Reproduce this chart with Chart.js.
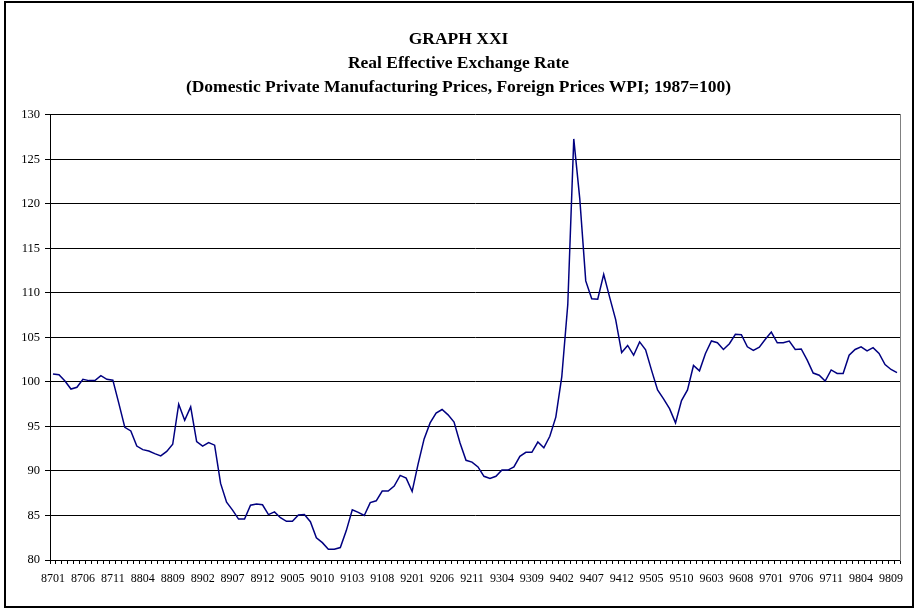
<!DOCTYPE html>
<html>
<head>
<meta charset="utf-8">
<script src="https://cdn.jsdelivr.net/npm/chart.js@4.4.1/dist/chart.umd.min.js"></script>
<style>
  body { margin: 0; background: #fff; }
  #wrap { position: relative; width: 917px; height: 610px; }
  #frame { position: absolute; left: 4px; top: 1px; width: 910px; height: 607px; border: 2px solid #000; box-sizing: border-box; pointer-events: none; }
  #myChart { position: absolute; left: 0; top: 0; }
</style>
</head>
<body>
<div id="wrap">
  <canvas id="myChart" width="917" height="610"></canvas>
  <div id="frame"></div>
</div>
<script>
// Real effective exchange rate, monthly from 8701 (1987=100)
const rate = [
  100.9, 100.8, 100.1, 99.2, 99.4, 100.3, 100.15, 100.15, 100.7, 100.3, 100.2, 97.6,
  94.9, 94.5, 92.8, 92.4, 92.25, 91.95, 91.7, 92.2, 93.0, 97.5, 95.7, 97.2,
  93.3, 92.8, 93.2, 92.9, 88.6, 86.5, 85.6, 84.6, 84.6, 86.15, 86.3, 86.2,
  85.1, 85.4, 84.75, 84.35, 84.35, 85.05, 85.1, 84.3, 82.5, 81.95, 81.2, 81.2,
  81.4, 83.3, 85.65, 85.35, 85.0, 86.45, 86.65, 87.75, 87.75, 88.3, 89.5, 89.2,
  87.7, 90.8, 93.6, 95.4, 96.5, 96.9, 96.3, 95.5, 93.15, 91.2, 91.0, 90.45,
  89.4, 89.15, 89.4, 90.1, 90.1, 90.45, 91.65, 92.1, 92.1, 93.25, 92.6, 93.9,
  96.05, 100.6, 108.7, 127.3, 120.6, 111.35, 109.35, 109.3, 112.1, 109.5, 107.0, 103.3,
  104.1, 103.0, 104.5, 103.6, 101.3, 99.1, 98.1, 97.0, 95.4, 97.9, 99.1, 101.85,
  101.25, 103.2, 104.6, 104.4, 103.65, 104.3, 105.35, 105.3, 103.95, 103.55, 103.9, 104.8,
  105.6, 104.4, 104.4, 104.6, 103.65, 103.7, 102.45, 101.0, 100.75, 100.1, 101.35, 100.95,
  100.95, 103.0, 103.65, 103.95, 103.5, 103.85, 103.2, 101.95, 101.4, 101.05
];

const titleLines = [
  "GRAPH XXI",
  "Real Effective Exchange Rate",
  "(Domestic Private Manufacturing Prices, Foreign Prices WPI; 1987=100)"
];

const yMin = 80;
const yMax = 130;
const yStep = 5;
const labelEvery = 5;

// period labels yymm, starting 8701
const periods = [];
for (let k = 0; k < rate.length; k++) {
  const yy = 87 + Math.floor(k / 12);
  const mm = (k % 12) + 1;
  periods.push(String(yy) + String(mm).padStart(2, "0"));
}

const serif = "'Liberation Serif', 'Times New Roman', serif";

const ctx = document.getElementById("myChart").getContext("2d");
new Chart(ctx, {
  type: "line",
  data: {
    labels: periods,
    datasets: [
      {
        label: "REER",
        data: rate,
        borderColor: "#000080",
        borderWidth: 1.5,
        pointRadius: 0,
        tension: 0,
        fill: false,
      },
    ],
  },
  options: {
    responsive: false,
    animation: false,
    devicePixelRatio: 1,
    layout: { padding: 0 },
    plugins: {
      legend: { display: false },
      tooltip: { enabled: false },
      title: {
        display: true,
        text: titleLines,
        color: "#000",
        font: { family: serif, size: 17.5, weight: "bold", lineHeight: 1.35 },
        padding: { top: 28, bottom: 16 },
      },
    },
    scales: {
      x: {
        type: "category",
        offset: true,
        grid: {
          display: true,
          drawOnChartArea: false,
          drawTicks: true,
          tickLength: 4,
          offset: true,
          color: "#000",
        },
        border: { color: "#000", width: 1 },
        ticks: {
          autoSkip: false,
          maxRotation: 0,
          minRotation: 0,
          padding: 8,
          color: "#000",
          font: { family: serif, size: 12 },
          callback: function (value, index) {
            return index % labelEvery === 0 ? periods[index] : "";
          },
        },
        afterFit: (scale) => {
          scale.height = 50;
        },
      },
      y: {
        min: yMin,
        max: yMax,
        grid: { color: "#000", lineWidth: 1, tickLength: 5 },
        border: { color: "#000", width: 1 },
        ticks: {
          stepSize: yStep,
          padding: 5,
          color: "#000",
          font: { family: serif, size: 12.5 },
        },
        afterFit: (scale) => {
          scale.width = 50;
        },
      },
      // empty right scale: gray plot edge plus the right margin
      yRight: {
        position: "right",
        min: yMin,
        max: yMax,
        grid: { display: false, drawTicks: false },
        border: { display: true, color: "#808080", width: 1 },
        ticks: { display: false },
        afterFit: (scale) => {
          scale.width = 17;
        },
      },
    },
  },
});
</script>
</body>
</html>
